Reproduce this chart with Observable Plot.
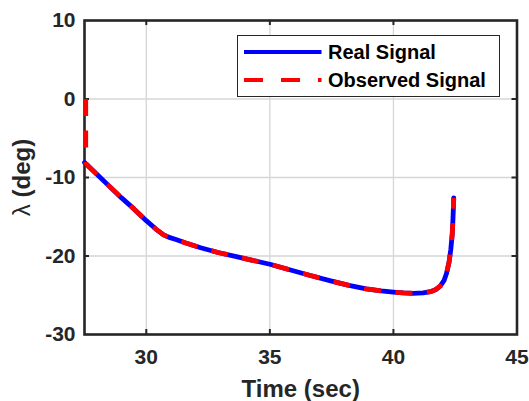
<!DOCTYPE html>
<html>
<head>
<meta charset="utf-8">
<script src="https://cdn.jsdelivr.net/npm/d3@7"></script>
<script src="https://cdn.jsdelivr.net/npm/@observablehq/plot@0.6"></script>
<style>
  html, body { margin: 0; padding: 0; background: #fff; }
  #wrap { position: relative; width: 529px; height: 401px; font-family: "Liberation Sans", Arial, sans-serif; }
  #legend { position: absolute; left: 236.5px; top: 35px; width: 263px; height: 62px; background: #fff; border: 1px solid #262626; box-sizing: border-box; }
  #legend .row { position: absolute; height: 20px; display: flex; align-items: center; }
  #legend .lbl { font-weight: bold; font-size: 20px; color: #000; margin-left: 6.5px; white-space: nowrap; line-height: 20px; }
</style>
</head>
<body>
<div id="wrap"></div>
<script>
// ---- data ----
const realTime = [27.5, 28.0, 28.5, 29.0, 29.5, 30.0, 30.4, 30.7, 30.9, 31.2, 31.6, 32.2, 32.9, 33.6, 34.3, 35.0, 35.8, 36.6, 37.5, 38.2, 38.9, 39.5, 40.0, 40.4, 40.8, 41.2, 41.5, 41.7, 41.9, 42.05, 42.15, 42.25, 42.32, 42.38, 42.41, 42.43, 42.44];
const realValue = [-8.1, -9.6, -11.1, -12.6, -14.0, -15.5, -16.6, -17.3, -17.6, -17.9, -18.35, -18.95, -19.55, -20.05, -20.55, -21.05, -21.75, -22.45, -23.2, -23.75, -24.2, -24.45, -24.6, -24.7, -24.75, -24.7, -24.55, -24.3, -23.8, -23.1, -22.2, -20.8, -19.2, -17.2, -15.2, -13.6, -12.6];
const obsTime = [27.55, 27.55, 28.0, 28.5, 29.0, 29.5, 30.0, 30.4, 30.7, 30.9, 31.2, 31.6, 32.2, 32.9, 33.6, 34.3, 35.0, 35.8, 36.6, 37.5, 38.2, 38.9, 39.5, 40.0, 40.4, 40.8, 41.2, 41.5, 41.7, 41.9, 42.05, 42.15, 42.25, 42.32, 42.38, 42.41, 42.43, 42.44];
const obsValue = [0, -8.2, -9.6, -11.1, -12.6, -14.0, -15.5, -16.6, -17.3, -17.6, -17.9, -18.35, -18.95, -19.55, -20.05, -20.55, -21.05, -21.75, -22.45, -23.2, -23.75, -24.2, -24.45, -24.6, -24.7, -24.75, -24.7, -24.55, -24.3, -23.8, -23.1, -22.2, -20.8, -19.2, -17.2, -15.2, -13.6, -12.6];
const xTicks = [30, 35, 40, 45];
const yTicks = [-30, -20, -10, 0, 10];
const xDomain = [27.5, 45];
const yDomain = [-30, 10];
const xLabel = "Time (sec)";
const yLabelSymbol = "λ";
const yLabelUnit = " (deg)";
const seriesNames = ["Real Signal", "Observed Signal"];
const seriesColors = ["#0000ff", "#ff0000"];

const real = realTime.map((t, i) => ({t, v: realValue[i]}));
const obs = obsTime.map((t, i) => ({t, v: obsValue[i]}));

const W = 529, H = 401, mL = 84, mR = 12.5, mT = 20, mB = 67;
const plotW = W - mL - mR, plotH = H - mT - mB;
const tk = 5;
const ink = "#262626";
const fmt = d => String(d);

const chart = Plot.plot({
  width: W, height: H,
  marginLeft: mL, marginRight: mR, marginTop: mT, marginBottom: mB,
  style: {fontFamily: "'Liberation Sans', Arial, sans-serif", fontWeight: "bold", color: ink, background: "#fff"},
  x: {domain: xDomain, ticks: xTicks, label: null},
  y: {domain: yDomain, ticks: yTicks, label: null},
  marks: [
    Plot.gridX(xTicks, {stroke: "#d6d6d6", strokeOpacity: 1, strokeWidth: 1.3}),
    Plot.gridY(yTicks, {stroke: "#d6d6d6", strokeOpacity: 1, strokeWidth: 1.3}),
    Plot.frame({stroke: ink, strokeWidth: 2.6}),
    // inward ticks on all four sides
    Plot.ruleX(xTicks.slice(0, -1), {stroke: ink, strokeWidth: 2, insetTop: plotH - tk}),
    Plot.ruleX(xTicks.slice(0, -1), {stroke: ink, strokeWidth: 2, insetBottom: plotH - tk}),
    Plot.ruleY(yTicks.slice(1, -1), {stroke: ink, strokeWidth: 2, insetRight: plotW - tk}),
    Plot.ruleY(yTicks.slice(1, -1), {stroke: ink, strokeWidth: 2, insetLeft: plotW - tk}),
    Plot.axisX(xTicks, {tickSize: 0, tickPadding: 15, tickFormat: fmt, fontSize: 21, fontWeight: "bold", label: xLabel, labelAnchor: "center", labelArrow: "none", labelOffset: 62}),
    Plot.axisY(yTicks, {tickSize: 0, tickPadding: 9, tickFormat: fmt, fontSize: 21, fontWeight: "bold", label: yLabelSymbol + yLabelUnit, labelAnchor: "center", labelArrow: "none", labelOffset: 72}),
    Plot.line(real, {x: "t", y: "v", stroke: seriesColors[0], strokeWidth: 4.8, curve: "linear"}),
    Plot.line(obs, {x: "t", y: "v", stroke: seriesColors[1], strokeWidth: 4.8, strokeDasharray: "17,14.5", strokeLinecap: "butt", curve: "linear"})
  ]
});

// axis titles: larger, lambda in regular weight
d3.select(chart).selectAll("text").each(function() {
  const t = this.textContent;
  if (t === xLabel) {
    d3.select(this).style("font-size", "24px").style("font-weight", "bold");
  } else if (t === yLabelSymbol + yLabelUnit) {
    const sel = d3.select(this).style("font-size", "24px");
    sel.text(null);
    sel.append("tspan").style("font-weight", "normal").text(yLabelSymbol);
    sel.append("tspan").style("font-weight", "bold").text(yLabelUnit);
  }
});

const wrap = document.getElementById("wrap");
wrap.appendChild(chart);

// legend overlay
const legend = document.createElement("div");
legend.id = "legend";
const rows = [
  {name: seriesNames[0], color: seriesColors[0], dash: null, top: 6},
  {name: seriesNames[1], color: seriesColors[1], dash: "19,18", top: 34}
];
for (const r of rows) {
  const row = document.createElement("div");
  row.className = "row";
  row.style.top = r.top + "px";
  row.style.left = "6.5px";
  const svg = d3.create("svg").attr("width", 77.5).attr("height", 20).style("display", "block");
  svg.append("line").attr("x1", 0).attr("x2", 77.5).attr("y1", 10).attr("y2", 10)
    .attr("stroke", r.color).attr("stroke-width", 4).attr("stroke-dasharray", r.dash);
  row.appendChild(svg.node());
  const lbl = document.createElement("span");
  lbl.className = "lbl";
  lbl.textContent = r.name;
  row.appendChild(lbl);
  legend.appendChild(row);
}
wrap.appendChild(legend);
</script>
</body>
</html>
